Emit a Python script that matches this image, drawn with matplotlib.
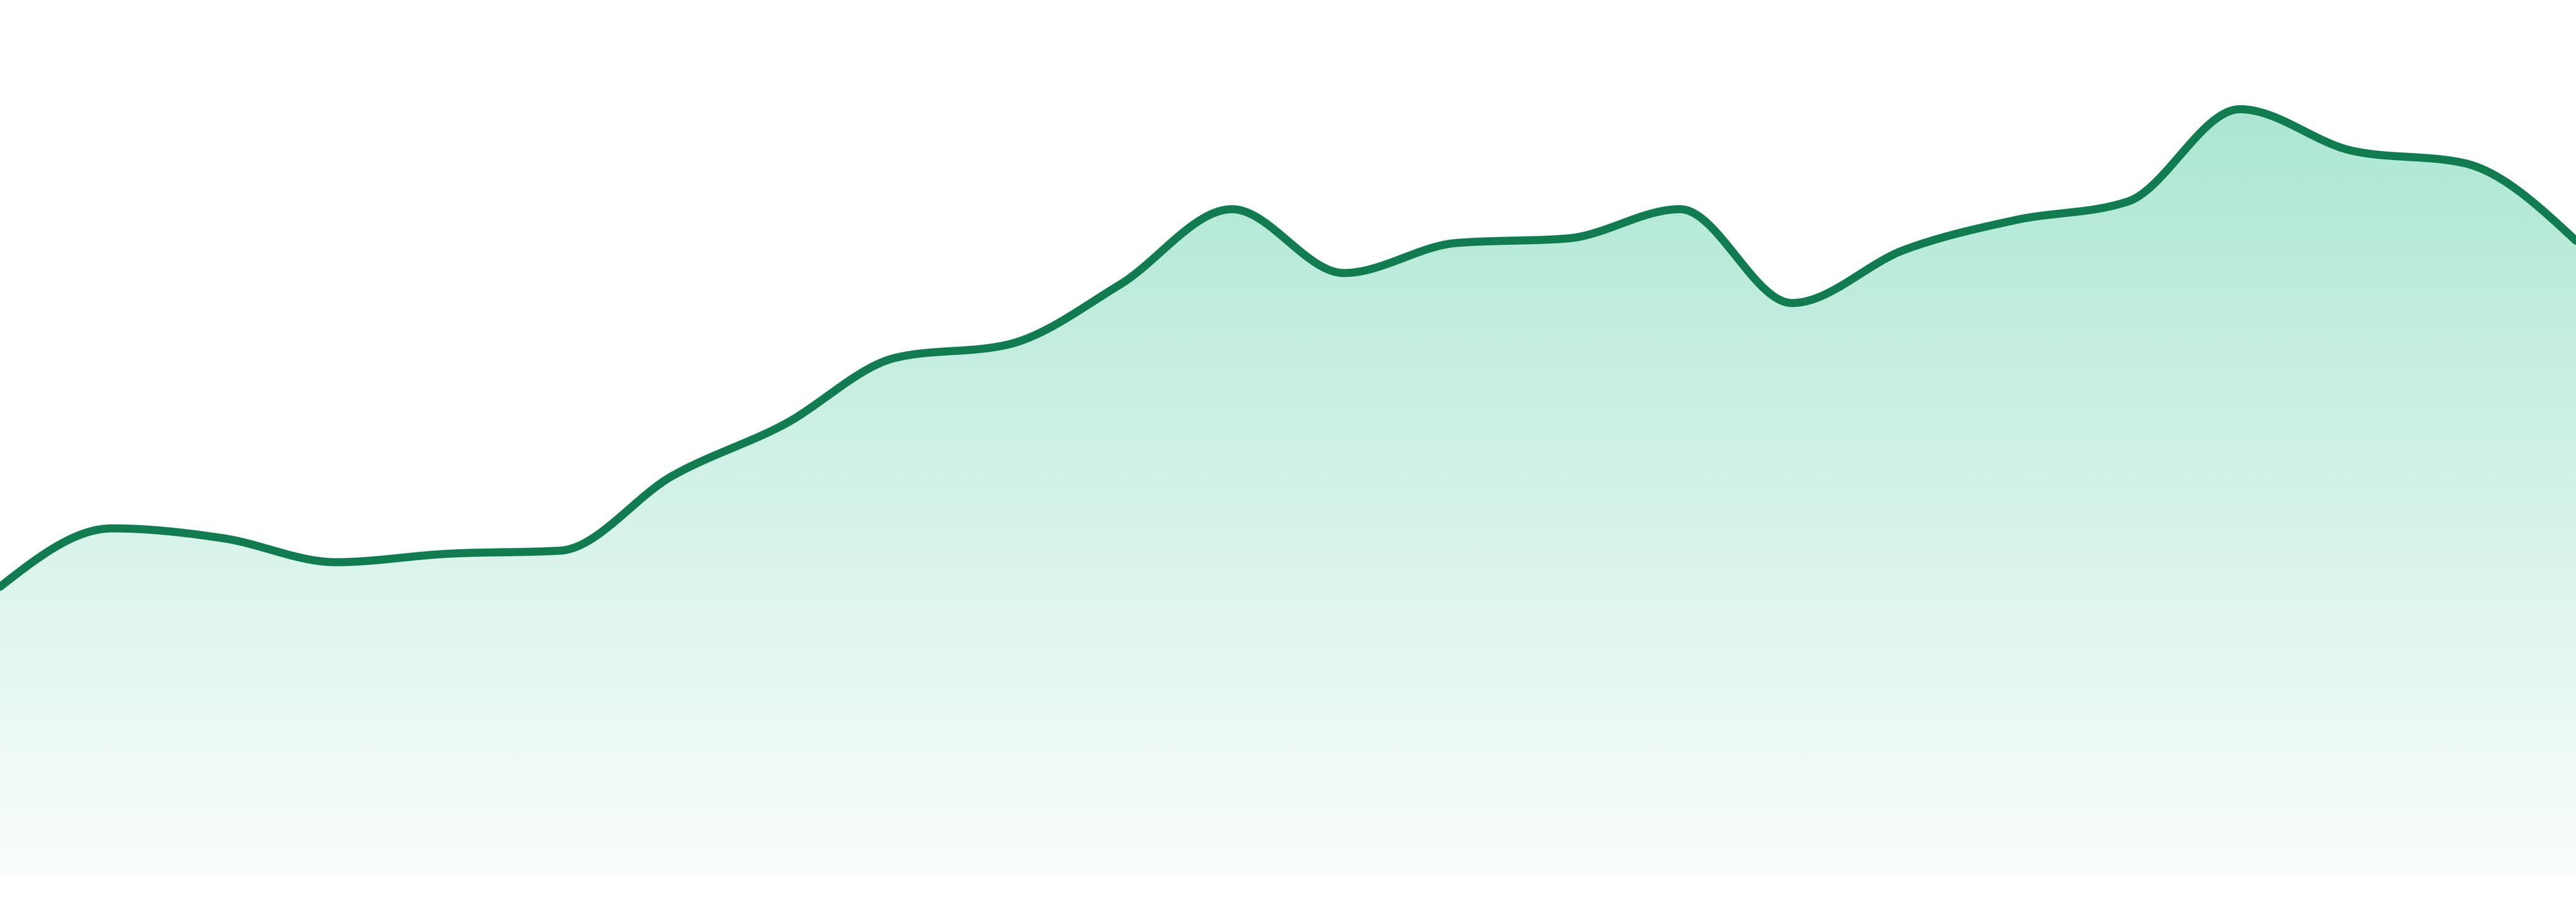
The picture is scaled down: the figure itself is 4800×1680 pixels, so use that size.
import numpy as np
import matplotlib
matplotlib.use("Agg")
import matplotlib.pyplot as plt
from matplotlib.colors import to_rgb

# one value per step
steps = list(range(24))
values = [37.7, 45.3, 44.0, 40.9, 42.0, 42.4, 52.1, 58.8, 67.5, 69.2, 77.0, 86.8,
          78.5, 82.4, 83.0, 86.8, 74.6, 81.5, 85.4, 87.8, 99.8, 94.4, 92.8, 82.7]

LINE = "#107c50"
FILL = "#10b981"
YMAX = 114


def monotone(x, y, n=40):
    # monotone cubic (same tangents as d3 curveMonotoneX)
    x = np.asarray(x, float)
    y = np.asarray(y, float)
    h = np.diff(x)
    s = np.diff(y) / h
    t = np.zeros_like(y)
    for i in range(1, len(x) - 1):
        p = (s[i - 1] * h[i] + s[i] * h[i - 1]) / (h[i - 1] + h[i])
        t[i] = (np.sign(s[i - 1]) + np.sign(s[i])) * min(abs(s[i - 1]), abs(s[i]), 0.5 * abs(p))
    t[0] = (3 * s[0] - t[1]) / 2
    t[-1] = (3 * s[-1] - t[-2]) / 2
    xs, ys = [], []
    for i in range(len(x) - 1):
        u = np.linspace(0, 1, n, endpoint=False)
        h00 = 2 * u**3 - 3 * u**2 + 1
        h10 = u**3 - 2 * u**2 + u
        h01 = -2 * u**3 + 3 * u**2
        h11 = u**3 - u**2
        xs.append(x[i] + u * h[i])
        ys.append(h00 * y[i] + h10 * h[i] * t[i] + h01 * y[i + 1] + h11 * h[i] * t[i + 1])
    xs.append([x[-1]])
    ys.append([y[-1]])
    return np.concatenate(xs), np.concatenate(ys)


fig = plt.figure(figsize=(16, 5.6), dpi=300)
ax = fig.add_axes([0, 47 / 1680, 1, 1633 / 1680])
ax.set_xlim(steps[0], steps[-1])
ax.set_ylim(0, YMAX)
ax.axis("off")

cx, cy = monotone(steps, values)

# vertical gradient fill under the curve
r, g, b = to_rgb(FILL)
lev = np.linspace(YMAX, 0, 400)
grad = np.zeros((400, 2, 4))
grad[..., 0], grad[..., 1], grad[..., 2] = r, g, b
grad[..., 3] = (0.02 + 0.33 * lev / 100)[:, None]
img = ax.imshow(grad, extent=(steps[0], steps[-1], 0, YMAX), aspect="auto",
                interpolation="bilinear", zorder=1)
poly = ax.fill_between(cx, cy, 0, color="none", lw=0)
clip = plt.Polygon(np.column_stack([np.r_[cx, cx[-1], cx[0]], np.r_[cy, 0, 0]]),
                   closed=True, transform=ax.transData, facecolor="none", edgecolor="none")
ax.add_patch(clip)
img.set_clip_path(clip)

ax.plot(cx, cy, color=LINE, lw=3.6, solid_capstyle="round", zorder=3, clip_on=False)

fig.savefig("out.png", dpi=300, facecolor="white")
